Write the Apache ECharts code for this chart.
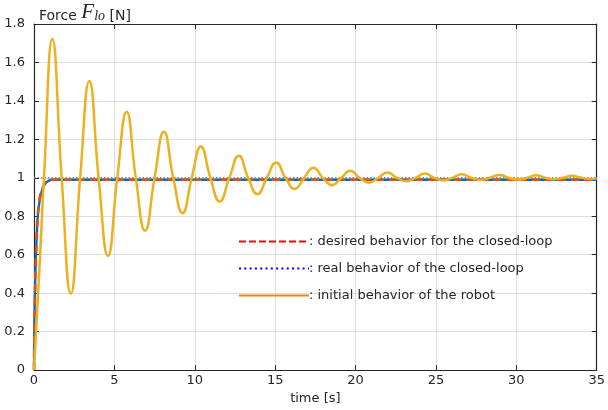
<!DOCTYPE html>
<html>
<head>
<meta charset="utf-8">
<script src="https://cdn.jsdelivr.net/npm/echarts@6/dist/echarts.min.js"></script>
<style>
  html, body { margin: 0; padding: 0; background: #fff; }
  #chart { width: 608px; height: 410px; }
</style>
</head>
<body>
<div id="chart"></div>
<script>
// time [s] and force [N]
const tInit = [0, 0.37, 0.62, 1.14, 1.72, 2.29, 2.87, 3.44, 4.02, 4.60, 5.18, 5.76, 6.33, 6.91, 7.50, 8.08, 8.66, 9.24, 9.81, 10.38, 10.97, 11.55, 12.15, 12.74, 13.32, 13.90, 14.48, 15.06, 15.64, 16.22, 16.80, 17.38, 17.96, 18.54, 19.11, 19.67, 20.25, 20.83, 21.41, 21.99, 22.57, 23.15, 23.73, 24.31, 24.89, 25.46, 26.03, 26.59, 27.18, 27.76, 28.35, 28.95, 29.53, 30.10, 30.67, 31.25, 31.80, 32.35, 32.90, 33.45, 34.05, 34.65, 35];
const fInit = [0, 0.58, 1.0, 1.722, 1.0, 0.397, 1.0, 1.504, 1.0, 0.594, 1.0, 1.344, 1.0, 0.725, 1.0, 1.240, 1.0, 0.816, 1.0, 1.163, 1.0, 0.877, 1.0, 1.115, 1.0, 0.915, 1.0, 1.080, 1.0, 0.942, 1.0, 1.053, 1.0, 0.962, 1.0, 1.037, 1.0, 0.975, 1.0, 1.028, 1.0, 0.982, 1.0, 1.022, 1.0, 0.986, 1.0, 1.018, 1.0, 0.989, 1.0, 1.015, 1.0, 0.991, 1.0, 1.013, 1.0, 0.992, 1.0, 1.011, 1.0, 0.994, 0.998];

const tReal = [0, 0.06, 0.2, 0.37, 0.68, 1.18, 35];
const fReal = [0, 0.41, 0.75, 0.89, 0.967, 0.99, 0.99];

const tDesired = [0, 0.05, 0.15, 0.3, 0.6, 1.1, 35];
const fDesired = [0, 0.33, 0.66, 0.86, 0.96, 0.99, 0.99];

const tRef = [0, 35];
const fRef = [1, 1];

const legendNames = [
  ': desired behavior for the closed-loop',
  ': real behavior of the closed-loop',
  ': initial behavior of the robot'
];

const xTicks = { min: 0, max: 35, interval: 5 };
const yTicks = { min: 0, max: 1.8, interval: 0.2 };

const zip = (xs, ys) => xs.map((x, i) => [x, ys[i]]);

const font = 'DejaVu Sans';
const ink = '#262626';

const chart = echarts.init(document.getElementById('chart'));

const frameAxis = {
  axisLine: { show: true, onZero: false, lineStyle: { color: ink, width: 1.2 } },
  axisTick: { show: true, inside: true, length: 5, lineStyle: { color: ink } }
};

chart.setOption({
  animation: false,
  title: {
    text: '{a|Force }{f|F}{s|lo}{a| [N]}',
    left: 34,
    top: -7,
    textStyle: {
      fontWeight: 'normal',
      rich: {
        a: { fontSize: 14, fontFamily: font, fontWeight: 'normal', color: ink, verticalAlign: 'bottom', lineHeight: 20 },
        f: { fontSize: 21, fontFamily: 'Liberation Serif', fontStyle: 'italic', fontWeight: 'normal', color: ink, verticalAlign: 'bottom', lineHeight: 25 },
        s: { fontSize: 14, fontFamily: 'Liberation Serif', fontStyle: 'italic', fontWeight: 'normal', color: ink, verticalAlign: 'bottom', lineHeight: 14 }
      }
    }
  },
  grid: { left: 34, right: 11, top: 24, bottom: 38 },
  legend: {
    orient: 'vertical',
    left: 233,
    top: 230,
    itemWidth: 70,
    itemHeight: 10,
    itemGap: 14,
    data: legendNames,
    itemStyle: { opacity: 0 },
    textStyle: { fontSize: 13, fontFamily: font, color: ink, padding: [0, 0, 0, -5] },
    selectedMode: false
  },
  xAxis: [
    {
      type: 'value', ...xTicks, position: 'bottom',
      name: 'time [s]', nameLocation: 'middle', nameGap: 19,
      nameTextStyle: { fontSize: 13, fontFamily: font, color: ink },
      axisLabel: { fontSize: 13, fontFamily: font, color: ink, margin: 4 },
      splitLine: { show: true, lineStyle: { color: '#dedede', width: 1 } },
      ...frameAxis
    },
    {
      type: 'value', ...xTicks, position: 'top',
      axisLabel: { show: false }, splitLine: { show: false },
      ...frameAxis
    }
  ],
  yAxis: [
    {
      type: 'value', ...yTicks, position: 'left',
      axisLabel: { fontSize: 13, fontFamily: font, color: ink, margin: 9 },
      splitLine: { show: true, lineStyle: { color: '#dedede', width: 1 } },
      ...frameAxis
    },
    {
      type: 'value', ...yTicks, position: 'right',
      axisLabel: { show: false }, splitLine: { show: false },
      ...frameAxis
    }
  ],
  series: [
    {
      name: 'ref', type: 'line', data: zip(tRef, fRef), symbol: 'none',
      lineStyle: { color: '#8a8a8a', width: 1.5, type: [1.5, 2] }, z: 2
    },
    {
      name: 'real', type: 'line', data: zip(tReal, fReal), symbol: 'none', smooth: 0.4,
      lineStyle: { color: '#0072BD', width: 2.4 }, z: 3
    },
    {
      name: 'desired', type: 'line', data: zip(tDesired, fDesired), symbol: 'none', smooth: 0.4,
      lineStyle: { color: '#D95319', width: 2.6, type: [8, 5] }, z: 4
    },
    {
      name: 'initial', type: 'line', data: zip(tInit, fInit), symbol: 'none', smooth: 0.5,
      lineStyle: { color: '#EDB120', width: 2.5 }, z: 5
    },
    {
      name: legendNames[0], type: 'line', data: [], symbol: 'none',
      itemStyle: { color: '#ff0000' },
      lineStyle: { color: '#ff0000', width: 2, type: [7, 3] }
    },
    {
      name: legendNames[1], type: 'line', data: [], symbol: 'none',
      itemStyle: { color: '#0000ff' },
      lineStyle: { color: '#0000ff', width: 2, type: [2, 3.3] }
    },
    {
      name: legendNames[2], type: 'line', data: [], symbol: 'none',
      itemStyle: { color: '#ff7f0e' },
      lineStyle: { color: '#ff7f0e', width: 2 }
    }
  ]
});
</script>
</body>
</html>
